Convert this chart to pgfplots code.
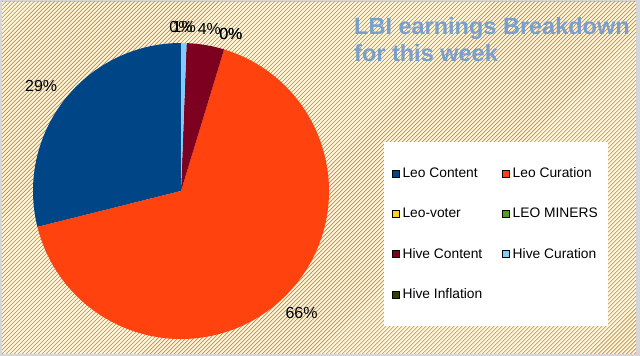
\documentclass[border=0pt]{standalone}
\usepackage{fontspec}
\setmainfont{Liberation Sans}
\usepackage{pgfplots}
\usepackage{pgfplotstable}
\pgfplotsset{compat=1.18}
\usetikzlibrary{patterns.meta}

\definecolor{c0}{HTML}{004586}
\definecolor{c1}{HTML}{FF420E}
\definecolor{c2}{HTML}{FFD320}
\definecolor{c3}{HTML}{579D1C}
\definecolor{c4}{HTML}{7E0021}
\definecolor{c5}{HTML}{83CAFF}
\definecolor{c6}{HTML}{314004}
\definecolor{titlecol}{HTML}{7A9FCC}
\definecolor{cream}{HTML}{FFF7DA}
\definecolor{hatch}{HTML}{BC8A4C}
\definecolor{frame}{HTML}{D6D6D6}

% share of each source (percent), in legend order
\pgfplotstableread{
name value
LeoContent 28.9
LeoCuration 66.4
LeoVoter 0
LeoMiners 0
HiveContent 4.1
HiveCuration 0.6
HiveInflation 0
}\piedata

\begin{document}
\begin{tikzpicture}
\begin{axis}[
  width=640pt, height=356pt, scale only axis,
  at={(0,0)}, anchor=south west,
  xmin=0, xmax=640, ymin=0, ymax=356,
  hide axis, clip=false,
  legend columns=2,
  legend cell align=left,
  legend image code/.code={\fill[#1] (0pt,-3.5pt) rectangle (7pt,3.5pt);},
  legend style={at={(0.775,0.3427)}, anchor=center, draw=none, fill=white,
    font=\fontsize{13.8}{16}\selectfont, inner xsep=8pt, inner ysep=23.5pt,
    row sep=25pt,
    /tikz/every even column/.append style={column sep=18pt},
    /tikz/every odd column/.append style={column sep=1pt}},
]
% background
\fill[frame] (axis cs:0,0) rectangle (axis cs:640,356);
\fill[cream] (axis cs:2,2) rectangle (axis cs:636,354);
\fill[pattern={Lines[angle=45,distance=2.83pt,line width=0.6pt]}, pattern color=hatch]
  (axis cs:2,2) rectangle (axis cs:636,354);

% pie slices
\pgfplotstablegetrowsof{\piedata}
\pgfmathtruncatemacro\lastrow{\pgfplotsretval-1}
\gdef\startang{90}
\pgfplotsforeachungrouped \i in {0,...,\lastrow}{%
  \pgfplotstablegetelem{\i}{value}\of\piedata
  \let\val\pgfplotsretval
  \pgfmathsetmacro\endang{\startang+3.6*\val}
  \pgfmathsetmacro\midang{(\startang+\endang)/2}
  \pgfmathtruncatemacro\pct{round(\val)}
  \pgfmathtruncatemacro\anc{mod(round(\midang+180),360)}
  \pgfmathsetmacro\lx{181+160*cos(\midang)}
  \pgfmathsetmacro\ly{165+153*sin(\midang)}
  \ifdim\val pt>0pt
    \edef\tmp{\noexpand\fill[c\i] (axis cs:181,165) -- ++(\startang:148pt) arc[start angle=\startang, end angle=\endang, radius=148pt] -- cycle;}\tmp
  \fi
  \edef\tmp{\noexpand\node[anchor=\anc, inner sep=1pt, minimum height=21pt, font=\noexpand\fontsize{16}{19}\noexpand\selectfont] at (axis cs:\lx,\ly) {\pct\noexpand\%};}\tmp
  \global\let\startang\endang
}

% title
\node[anchor=base west, text=titlecol, font=\bfseries\fontsize{23.5}{27}\selectfont, inner sep=0pt]
  at (axis cs:354,321) {LBI earnings Breakdown};
\node[anchor=base west, text=titlecol, font=\bfseries\fontsize{23.5}{27}\selectfont, inner sep=0pt]
  at (axis cs:354,294) {for this week};

\addlegendimage{fill=c0}\addlegendentry{Leo Content}
\addlegendimage{fill=c1}\addlegendentry{Leo Curation}
\addlegendimage{fill=c2}\addlegendentry{Leo-voter}
\addlegendimage{fill=c3}\addlegendentry{LEO MINERS}
\addlegendimage{fill=c4}\addlegendentry{Hive Content}
\addlegendimage{fill=c5}\addlegendentry{Hive Curation}
\addlegendimage{fill=c6}\addlegendentry{Hive Inflation}
\end{axis}
\end{tikzpicture}
\end{document}
